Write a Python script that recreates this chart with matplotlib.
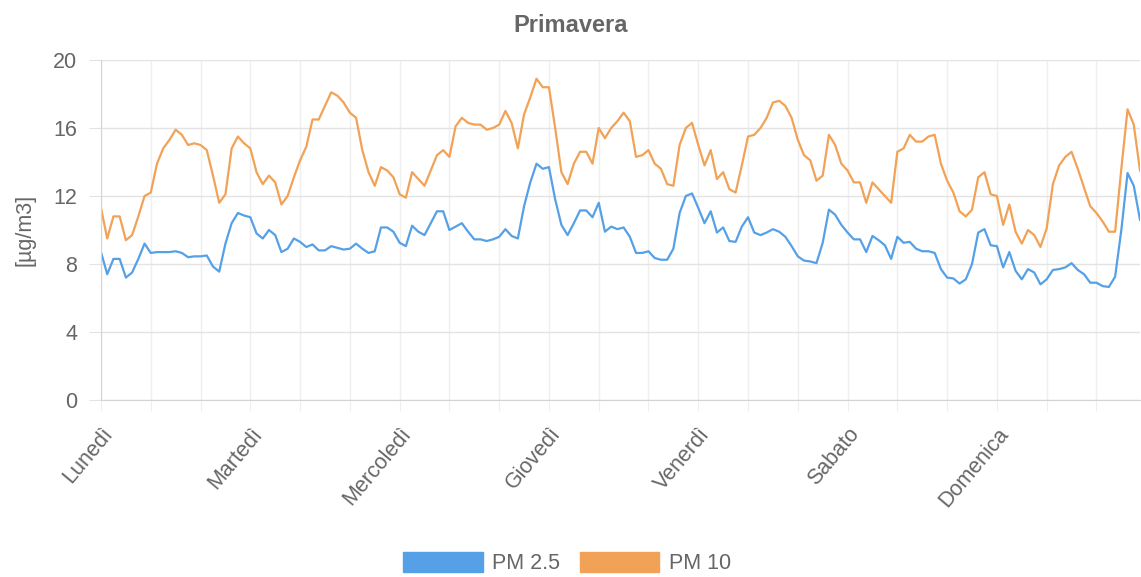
import numpy as np
import matplotlib
matplotlib.use('Agg')
import matplotlib.pyplot as plt
from matplotlib.patches import Patch

plt.rcParams['font.family'] = ['Liberation Sans', 'DejaVu Sans']

giorni = ['Lunedì', 'Martedì', 'Mercoledì', 'Giovedì', 'Venerdì', 'Sabato', 'Domenica']

pm25 = [8.7, 7.4, 8.3, 8.3, 7.2, 7.5, 8.3, 9.2, 8.65, 8.7, 8.7, 8.7, 8.75, 8.65, 8.4, 8.45,
        8.45, 8.5, 7.85, 7.55, 9.2, 10.4, 11.0, 10.85, 10.75, 9.8, 9.5, 10.0, 9.7, 8.7, 8.9, 9.5,
        9.3, 9.0, 9.15, 8.8, 8.8, 9.05, 8.95, 8.85, 8.9, 9.2, 8.9, 8.65, 8.75, 10.15, 10.15, 9.9,
        9.25, 9.05, 10.25, 9.9, 9.7, 10.4, 11.1, 11.1, 10.0, 10.2, 10.4, 9.9, 9.45, 9.45, 9.35, 9.45,
        9.6, 10.05, 9.65, 9.5, 11.4, 12.8, 13.9, 13.6, 13.7, 11.8, 10.3, 9.7, 10.4, 11.15, 11.15, 10.75,
        11.6, 9.9, 10.2, 10.05, 10.15, 9.6, 8.65, 8.65, 8.75, 8.35, 8.25, 8.25, 8.9, 11.0, 12.0, 12.15,
        11.3, 10.4, 11.1, 9.85, 10.15, 9.35, 9.3, 10.2, 10.75, 9.85, 9.7, 9.85, 10.05, 9.9, 9.6, 9.05,
        8.45, 8.2, 8.15, 8.05, 9.25, 11.2, 10.9, 10.3, 9.85, 9.45, 9.45, 8.7, 9.65, 9.4, 9.1, 8.3,
        9.6, 9.25, 9.3, 8.9, 8.75, 8.75, 8.65, 7.7, 7.2, 7.15, 6.85, 7.1, 8.0, 9.85, 10.05, 9.1,
        9.05, 7.8, 8.7, 7.6, 7.1, 7.7, 7.5, 6.8, 7.1, 7.65, 7.7, 7.8, 8.05, 7.65, 7.4, 6.9,
        6.9, 6.7, 6.65, 7.25, 10.0, 13.35, 12.6, 10.6]

pm10 = [11.3, 9.5, 10.8, 10.8, 9.4, 9.7, 10.8, 12.0, 12.2, 13.9, 14.8, 15.3, 15.9, 15.6, 15.0, 15.1,
        15.0, 14.7, 13.2, 11.6, 12.1, 14.8, 15.5, 15.1, 14.8, 13.4, 12.7, 13.2, 12.8, 11.5, 12.0, 13.1,
        14.1, 14.9, 16.5, 16.5, 17.3, 18.1, 17.9, 17.5, 16.9, 16.6, 14.7, 13.4, 12.6, 13.7, 13.5, 13.1,
        12.1, 11.9, 13.4, 13.0, 12.6, 13.5, 14.4, 14.7, 14.3, 16.1, 16.6, 16.3, 16.2, 16.2, 15.9, 16.0,
        16.2, 17.0, 16.3, 14.8, 16.8, 17.8, 18.9, 18.4, 18.4, 16.0, 13.4, 12.7, 13.9, 14.6, 14.6, 13.9,
        16.0, 15.4, 16.0, 16.4, 16.9, 16.4, 14.3, 14.4, 14.7, 13.9, 13.6, 12.7, 12.6, 15.0, 16.0, 16.3,
        15.0, 13.8, 14.7, 13.0, 13.4, 12.4, 12.2, 13.8, 15.5, 15.6, 16.0, 16.6, 17.5, 17.6, 17.3, 16.6,
        15.3, 14.4, 14.1, 12.9, 13.2, 15.6, 15.0, 13.9, 13.5, 12.8, 12.8, 11.6, 12.8, 12.4, 12.0, 11.6,
        14.6, 14.8, 15.6, 15.2, 15.2, 15.5, 15.6, 13.9, 12.9, 12.2, 11.1, 10.8, 11.2, 13.1, 13.4, 12.1,
        12.0, 10.3, 11.5, 9.9, 9.2, 10.0, 9.7, 9.0, 10.1, 12.7, 13.8, 14.3, 14.6, 13.6, 12.5, 11.4,
        11.0, 10.5, 9.9, 9.9, 13.6, 17.1, 16.2, 13.5]

ore = np.arange(len(pm25))

blu = '#55a0e6'
arancio = '#f2a256'
testo = '#666666'

fig = plt.figure(figsize=(11.41, 5.77), dpi=100)
ax = fig.add_axes([101 / 1141, 177 / 577, 1039 / 1141, 340 / 577])

ax.plot(ore, pm10, color=arancio, lw=1.6)
ax.plot(ore, pm25, color=blu, lw=1.6)

ax.set_xlim(0, len(ore) - 1)
ax.set_ylim(0, 20)
ax.set_yticks(np.arange(0, 21, 4))

# griglia verticale ogni 8 ore, etichette solo a inizio giornata
xt = np.arange(0, len(ore), 8)
ax.set_xticks(xt)
ax.set_xticklabels([giorni[t // 24] if t % 24 == 0 else '' for t in xt],
                   rotation=50, ha='right', rotation_mode='anchor')

ax.grid(axis='y', color='#e3e3e3', lw=1)
ax.grid(axis='x', color='#efefef', lw=1)
ax.set_axisbelow(True)
for s in ['top', 'right']:
    ax.spines[s].set_visible(False)
for s in ['left', 'bottom']:
    ax.spines[s].set_color('#d4d4d4')

ax.tick_params(axis='y', length=9, color='#e3e3e3', pad=8, labelsize=15.5, labelcolor=testo)
ax.tick_params(axis='x', length=8, color='#efefef', pad=9, labelsize=15.5, labelcolor=testo)

fig.text(25 / 1141, 1 - 230 / 577, '[µg/m3]', rotation=90, ha='center', va='center',
         fontsize=15.5, color=testo)
fig.text(0.5, 1 - 26 / 577, 'Primavera', ha='center', va='center',
         fontsize=17, fontweight='bold', color=testo)

maniglie = [Patch(facecolor=blu, edgecolor=blu), Patch(facecolor=arancio, edgecolor=arancio)]
fig.legend(maniglie, ['PM 2.5', 'PM 10'], loc='center', bbox_to_anchor=(0.497, 1 - 563 / 577),
           ncol=2, frameon=False, fontsize=15.5, labelcolor=testo,
           handlelength=3.7, handleheight=1.1, handletextpad=0.45, columnspacing=0.9)

plt.savefig('out.png', dpi=100)
